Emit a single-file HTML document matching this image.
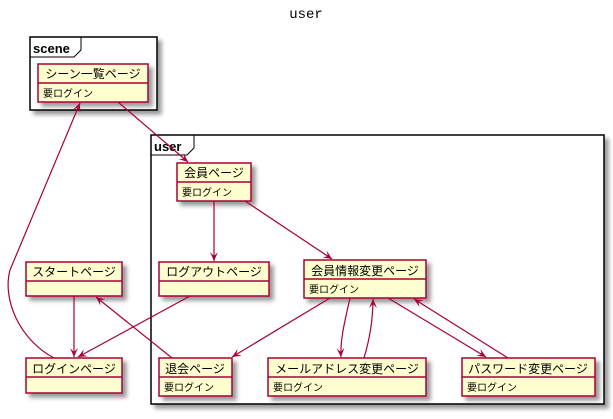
<!DOCTYPE html>
<html><head><meta charset="utf-8"><style>
body{margin:0;background:#fff}
text{font-family:"Liberation Sans","Noto Sans CJK JP",sans-serif}
text.t{font-family:"Liberation Mono",monospace}
</style></head><body>
<svg width="613" height="414" viewBox="0 0 613 414" xmlns="http://www.w3.org/2000/svg">
<defs>
<filter id="sh" x="-20%" y="-20%" width="150%" height="150%"><feGaussianBlur in="SourceAlpha" stdDeviation="2"/><feOffset dx="4" dy="4"/><feComponentTransfer><feFuncA type="linear" slope="0.4"/></feComponentTransfer><feMerge><feMergeNode/><feMergeNode in="SourceGraphic"/></feMerge></filter>
<marker id="ar" markerWidth="10" markerHeight="10" refX="9" refY="5" orient="auto" markerUnits="userSpaceOnUse"><path d="M0,1 L9,5 L0,9 L4,5 Z" fill="#A80036"/></marker>
</defs>
<text class="t" x="306" y="18" font-size="14" text-anchor="middle">user</text>
<g filter="url(#sh)"><rect x="30" y="37" width="127" height="73" fill="#fff" stroke="#000" stroke-width="1.5"/></g>
<path d="M30,57 H74 L81,50 V37" fill="none" stroke="#000"/>
<text x="33" y="53" font-size="13" font-weight="bold">scene</text>
<g filter="url(#sh)"><rect x="151" y="135" width="453" height="269" fill="#fff" stroke="#000" stroke-width="1.5"/></g>
<path d="M151,155 H187 L194,148 V135" fill="none" stroke="#000"/>
<text x="154" y="151" font-size="13" font-weight="bold">user</text>
<g fill="#FEFECE" stroke="#A80036" stroke-width="1.5" filter="url(#sh)">
<rect x="38" y="64" width="110" height="38"/>
<rect x="177" y="163" width="74" height="38"/>
<rect x="159" y="262" width="110" height="34"/>
<rect x="304" y="260" width="122" height="38"/>
<rect x="159" y="358" width="73" height="38"/>
<rect x="268" y="358" width="158" height="38"/>
<rect x="462" y="358" width="133" height="38"/>
<rect x="26" y="262" width="96" height="34"/>
<rect x="26" y="358" width="96" height="35"/>
</g>
<g stroke="#A80036" stroke-width="1.5">
<line x1="38" y1="83" x2="148" y2="83"/><line x1="177" y1="182" x2="251" y2="182"/>
<line x1="159" y1="281" x2="269" y2="281"/><line x1="304" y1="279" x2="426" y2="279"/>
<line x1="159" y1="377" x2="232" y2="377"/><line x1="268" y1="377" x2="426" y2="377"/>
<line x1="462" y1="377" x2="595" y2="377"/><line x1="26" y1="281" x2="122" y2="281"/>
<line x1="26" y1="377" x2="122" y2="377"/>
</g>
<g font-size="12" text-anchor="middle">
<text x="93" y="78">シーン一覧ページ</text>
<text x="214" y="177">会員ページ</text>
<text x="214" y="276">ログアウトページ</text>
<text x="365" y="275">会員情報変更ページ</text>
<text x="195" y="373">退会ページ</text>
<text x="347" y="373">メールアドレス変更ページ</text>
<text x="528" y="373">パスワード変更ページ</text>
<text x="74" y="276">スタートページ</text>
<text x="74" y="373">ログインページ</text>
</g>
<g font-size="10">
<text x="43" y="97">要ログイン</text><text x="182" y="196">要ログイン</text>
<text x="309" y="293">要ログイン</text><text x="164" y="391">要ログイン</text>
<text x="273" y="391">要ログイン</text><text x="467" y="391">要ログイン</text>
</g>
<g stroke="#A80036" stroke-width="1.2" fill="none" marker-end="url(#ar)">
<line x1="118" y1="102" x2="188" y2="162"/>
<line x1="214" y1="201" x2="214" y2="261"/>
<line x1="245" y1="201" x2="332" y2="259"/>
<line x1="190" y1="296" x2="78" y2="357"/>
<line x1="74" y1="296" x2="74" y2="357"/>
<line x1="172" y1="358" x2="96" y2="297"/>
<path d="M54,358 C20,340 2,300 10,270 L80,103"/>
<line x1="330" y1="298" x2="232" y2="357"/>
<path d="M350,298 C345,320 340,340 341,357"/>
<path d="M364,358 C370,338 373,320 373,299"/>
<line x1="388" y1="298" x2="486" y2="357"/>
<line x1="508" y1="358" x2="414" y2="299"/>
</g>
</svg>
</body></html>
